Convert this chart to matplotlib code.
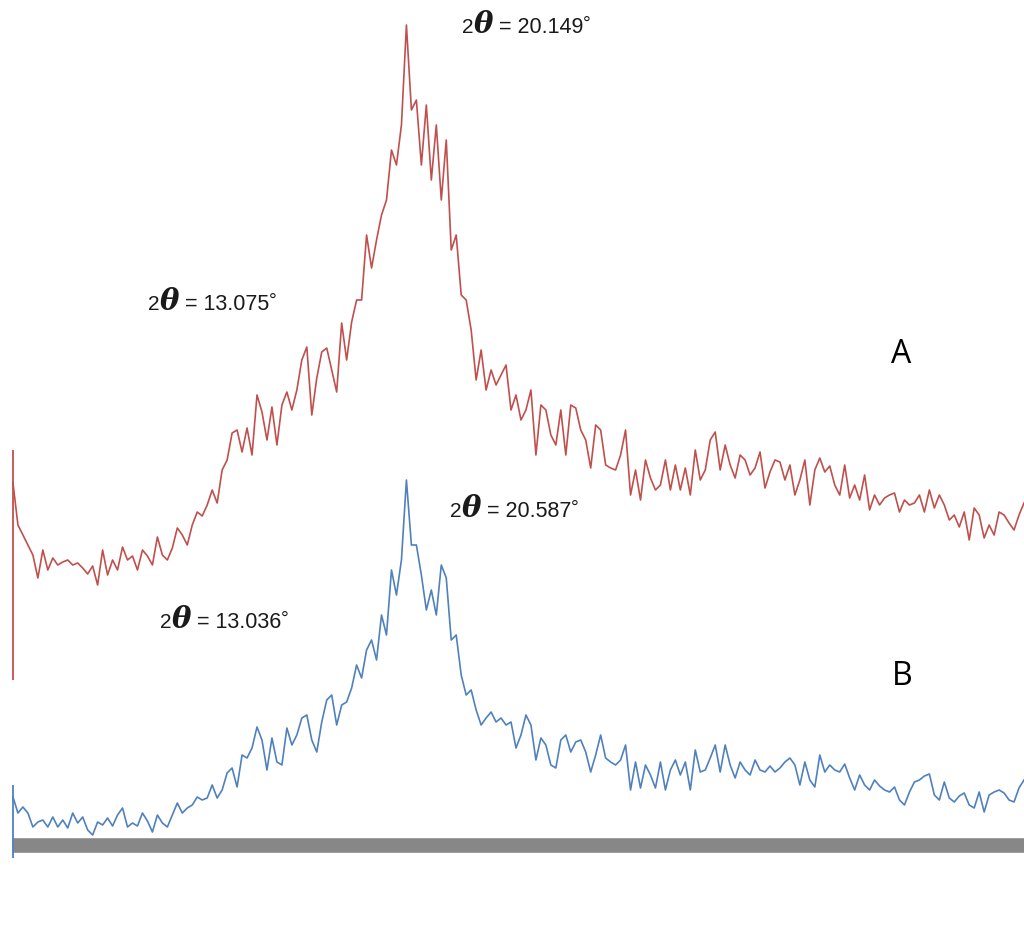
import matplotlib
matplotlib.use('Agg')
import matplotlib.pyplot as plt
import numpy as np
from matplotlib.transforms import IdentityTransform

# XRD patterns (intensity in a.u., one value per scan step)
red_a = np.array([
    112, 70, 60, 50, 40, 17, 45, 25, 37, 30,
    33, 35, 30, 32, 27, 21, 29, 10, 45, 20,
    35, 25, 48, 35, 39, 25, 45, 39, 30, 58,
    40, 35, 47, 67, 60, 50, 70, 83, 79, 90,
    105, 92, 125, 135, 162, 165, 143, 167, 140, 200,
    183, 155, 188, 150, 190, 203, 185, 205, 235, 248,
    180, 217, 243, 247, 225, 203, 272, 235, 273, 295,
    295, 360, 327, 355, 380, 395, 445, 430, 470, 570,
    485, 495, 430, 490, 415, 470, 395, 455, 345, 360,
    300, 295, 265, 215, 245, 205, 225, 210, 220, 230,
    185, 200, 175, 185, 205, 140, 190, 185, 160, 150,
    185, 140, 190, 187, 165, 155, 127, 170, 165, 130,
    127, 125, 140, 165, 100, 125, 95, 135, 117, 105,
    110, 135, 105, 130, 105, 127, 100, 145, 115, 125,
    155, 163, 125, 150, 130, 117, 140, 135, 120, 127,
    143, 107, 123, 135, 133, 115, 130, 100, 115, 135,
    90, 125, 137, 123, 129, 110, 100, 130, 97, 110,
    95, 120, 85, 100, 90, 97, 100, 102, 83, 95,
    90, 92, 100, 83, 105, 87, 100, 90, 75, 80,
    68, 83, 55, 87, 80, 57, 70, 60, 83, 80,
    72, 65, 80, 92])

blue_b = np.array([
    48, 32, 38, 32, 18, 23, 25, 18, 28, 18,
    25, 17, 32, 22, 28, 15, 10, 23, 20, 27,
    19, 30, 37, 18, 22, 19, 32, 24, 13, 30,
    22, 18, 30, 42, 32, 37, 40, 48, 45, 47,
    60, 47, 55, 72, 77, 58, 90, 87, 97, 118,
    105, 75, 107, 83, 80, 117, 100, 110, 127, 130,
    105, 93, 123, 145, 150, 120, 140, 143, 157, 180,
    167, 195, 205, 185, 230, 210, 275, 250, 285, 365,
    300, 300, 270, 235, 255, 230, 280, 267, 205, 210,
    170, 150, 155, 135, 120, 127, 133, 123, 127, 120,
    123, 97, 110, 130, 120, 85, 107, 100, 80, 77,
    105, 110, 93, 103, 105, 93, 73, 90, 110, 87,
    83, 80, 85, 100, 55, 83, 57, 80, 70, 57,
    83, 55, 75, 85, 70, 83, 55, 95, 73, 75,
    87, 100, 73, 100, 80, 67, 83, 75, 70, 85,
    75, 73, 79, 73, 77, 83, 87, 80, 60, 83,
    65, 58, 90, 73, 80, 75, 73, 81, 67, 55,
    70, 60, 55, 65, 59, 55, 53, 58, 45, 40,
    53, 63, 65, 69, 71, 50, 45, 63, 47, 43,
    49, 52, 40, 37, 53, 33, 50, 53, 55, 52,
    45, 43, 57, 65])

# scan start artefacts (vertical jumps at the first step)
red_spike = (-85, 145)
blue_spike = (-13, 60)
offset_a = 250  # stacking offset of pattern A

# scan axis: 2theta from 5 to 44 deg, constant step
two_theta = np.linspace(5, 44, len(red_a))

peaks_a = ['13.075', '20.149']
peaks_b = ['13.036', '20.587']

fig = plt.figure(figsize=(10.24, 9.38), dpi=100)
ax = fig.add_axes([0, 0, 1, 1])
ax.set_xlim(4.5, 44.0)
ax.set_ylim(-93, 845)
ax.axis('off')

# thick grey baseline
ax.hlines(0, two_theta[0] - 0.04, two_theta[-1], color='#878787', lw=10.5, zorder=1)

ax.plot(two_theta, blue_b, color='#4F81BD', lw=1.2, zorder=3)
ax.plot(two_theta, red_a + offset_a, color='#C0504D', lw=1.2, zorder=3)
ax.vlines(two_theta[0], blue_spike[0], blue_spike[1], color='#4F81BD', lw=1.3, zorder=3)
ax.vlines(two_theta[0], red_spike[0] + offset_a, red_spike[1] + offset_a,
          color='#C0504D', lw=1.3, zorder=3)

renderer = fig.canvas.get_renderer()


def theta_label(px, py, value):
    # px, py: left / baseline in image pixels (top-left origin)
    x = px
    y = 938 - py
    pieces = [
        ('2', dict(size=15, family='Liberation Sans'), 0),
        ('\u03b8', dict(size=21, weight='bold', style='italic', family='DejaVu Serif'), 0),
        (' = ' + value, dict(size=15.5, family='Liberation Sans'), 0),
        ('\u00b0', dict(size=14, family='Liberation Sans'), 4),
    ]
    for s, kw, dy in pieces:
        t = fig.text(x, y + dy, s, transform=IdentityTransform(), va='baseline',
                     color='#1a1a1a', **kw)
        x = t.get_window_extent(renderer).x1


theta_label(148, 310, peaks_a[0])
theta_label(462, 33, peaks_a[1])
theta_label(160, 628, peaks_b[0])
theta_label(450, 517, peaks_b[1])

fig.text(891, 938 - 363, 'A', transform=IdentityTransform(), va='baseline',
         size=23, family='Open Sans', color='black')
fig.text(892, 938 - 685, 'B', transform=IdentityTransform(), va='baseline',
         size=23, family='Open Sans', color='black')

fig.savefig('out.png', dpi=100)
